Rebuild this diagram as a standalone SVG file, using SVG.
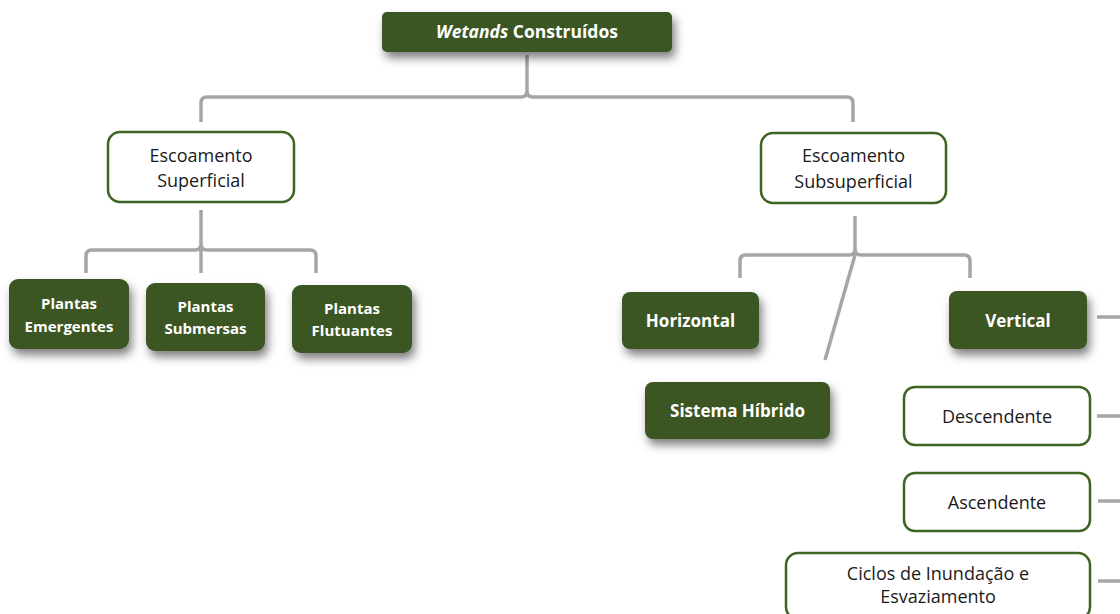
<svg xmlns="http://www.w3.org/2000/svg" width="1120" height="614" viewBox="0 0 1120 614">
  <defs>
    <filter id="shadow" x="-20%" y="-30%" width="150%" height="190%">
      <feDropShadow dx="3" dy="6" stdDeviation="5" flood-color="#000" flood-opacity="0.5"/>
    </filter>
  </defs>
  <style>
    .dark { fill: #3a5724; filter: url(#shadow); }
    .light { fill: #ffffff; stroke: #3f6423; stroke-width: 2.5; }
    .tb { font-family: "Open Sans", "DejaVu Sans", sans-serif; font-weight: bold; fill: #ffffff; text-anchor: middle; }
    .tr { font-family: "Open Sans", "DejaVu Sans", sans-serif; font-size: 18px; fill: #1a1a1a; text-anchor: middle; }
    .conn { fill: none; stroke: #a6a6a6; stroke-width: 3.5; stroke-linejoin: round; }
  </style>
  <rect width="1120" height="614" fill="#ffffff"/>

  <!-- connectors -->
  <g id="connectors" class="conn">
    <path d="M201,122 V103 Q201,97 207,97 H521 Q527,97 527,91 V55 M527,91 Q527,97 533,97 H847 Q853,97 853,103 V122"/>
    <path d="M86,273 V256 Q86,250 92,250 H195 Q201,250 201,244 V210 M201,244 Q201,250 201,256 V273 M201,244 Q201,250 207,250 H310 Q316,250 316,256 V273"/>
    <path d="M740,278 V261 Q740,255 746,255 H849 Q855,255 855,249 V216 M855,249 Q855,255 861,255 H964 Q970,255 970,261 V278"/>
    <path d="M855,255 L825,360"/>
    <path d="M1097,317 H1120 M1097,416 H1120 M1098,501 H1120 M1098,581 H1120"/>
  </g>

  <!-- root -->
  <g id="root">
    <rect class="dark" x="382" y="12" width="290" height="40" rx="5"/>
    <text class="tb" x="527" y="38" font-size="17.5px"><tspan font-style="italic">Wetands</tspan> Construídos</text>
  </g>

  <!-- surface flow branch -->
  <g id="superficial">
    <rect class="light" x="108" y="132" width="186" height="70" rx="12"/>
    <text class="tr" x="201" y="162">Escoamento</text>
    <text class="tr" x="201" y="187">Superficial</text>
  </g>
  <g id="emergentes">
    <rect class="dark" x="9" y="279" width="120" height="70" rx="9"/>
    <text class="tb" x="69" y="309" font-size="15px">Plantas</text>
    <text class="tb" x="69" y="332" font-size="15px">Emergentes</text>
  </g>
  <g id="submersas">
    <rect class="dark" x="146" y="283" width="119" height="68" rx="9"/>
    <text class="tb" x="205.5" y="312" font-size="15px">Plantas</text>
    <text class="tb" x="205.5" y="334" font-size="15px">Submersas</text>
  </g>
  <g id="flutuantes">
    <rect class="dark" x="292" y="285" width="120" height="68" rx="9"/>
    <text class="tb" x="352" y="314" font-size="15px">Plantas</text>
    <text class="tb" x="352" y="336" font-size="15px">Flutuantes</text>
  </g>

  <!-- subsurface flow branch -->
  <g id="subsuperficial">
    <rect class="light" x="761" y="133" width="185" height="70" rx="12"/>
    <text class="tr" x="853.5" y="162">Escoamento</text>
    <text class="tr" x="853.5" y="188">Subsuperficial</text>
  </g>
  <g id="horizontal">
    <rect class="dark" x="622" y="292" width="137" height="57" rx="8"/>
    <text class="tb" x="690.5" y="327" font-size="17px">Horizontal</text>
  </g>
  <g id="vertical">
    <rect class="dark" x="949" y="291" width="138" height="58" rx="8"/>
    <text class="tb" x="1018" y="327" font-size="17px">Vertical</text>
  </g>
  <g id="hibrido">
    <rect class="dark" x="645" y="382" width="185" height="57" rx="8"/>
    <text class="tb" x="737.5" y="417" font-size="17px">Sistema Híbrido</text>
  </g>

  <!-- vertical flow variants -->
  <g id="descendente">
    <rect class="light" x="904" y="387" width="186" height="58" rx="11"/>
    <text class="tr" x="997" y="423">Descendente</text>
  </g>
  <g id="ascendente">
    <rect class="light" x="904" y="473" width="186" height="58" rx="11"/>
    <text class="tr" x="997" y="509">Ascendente</text>
  </g>
  <g id="ciclos">
    <rect class="light" x="786" y="553" width="304" height="66" rx="12"/>
    <text class="tr" x="938" y="580">Ciclos de Inundação e</text>
    <text class="tr" x="938" y="603">Esvaziamento</text>
  </g>
</svg>
